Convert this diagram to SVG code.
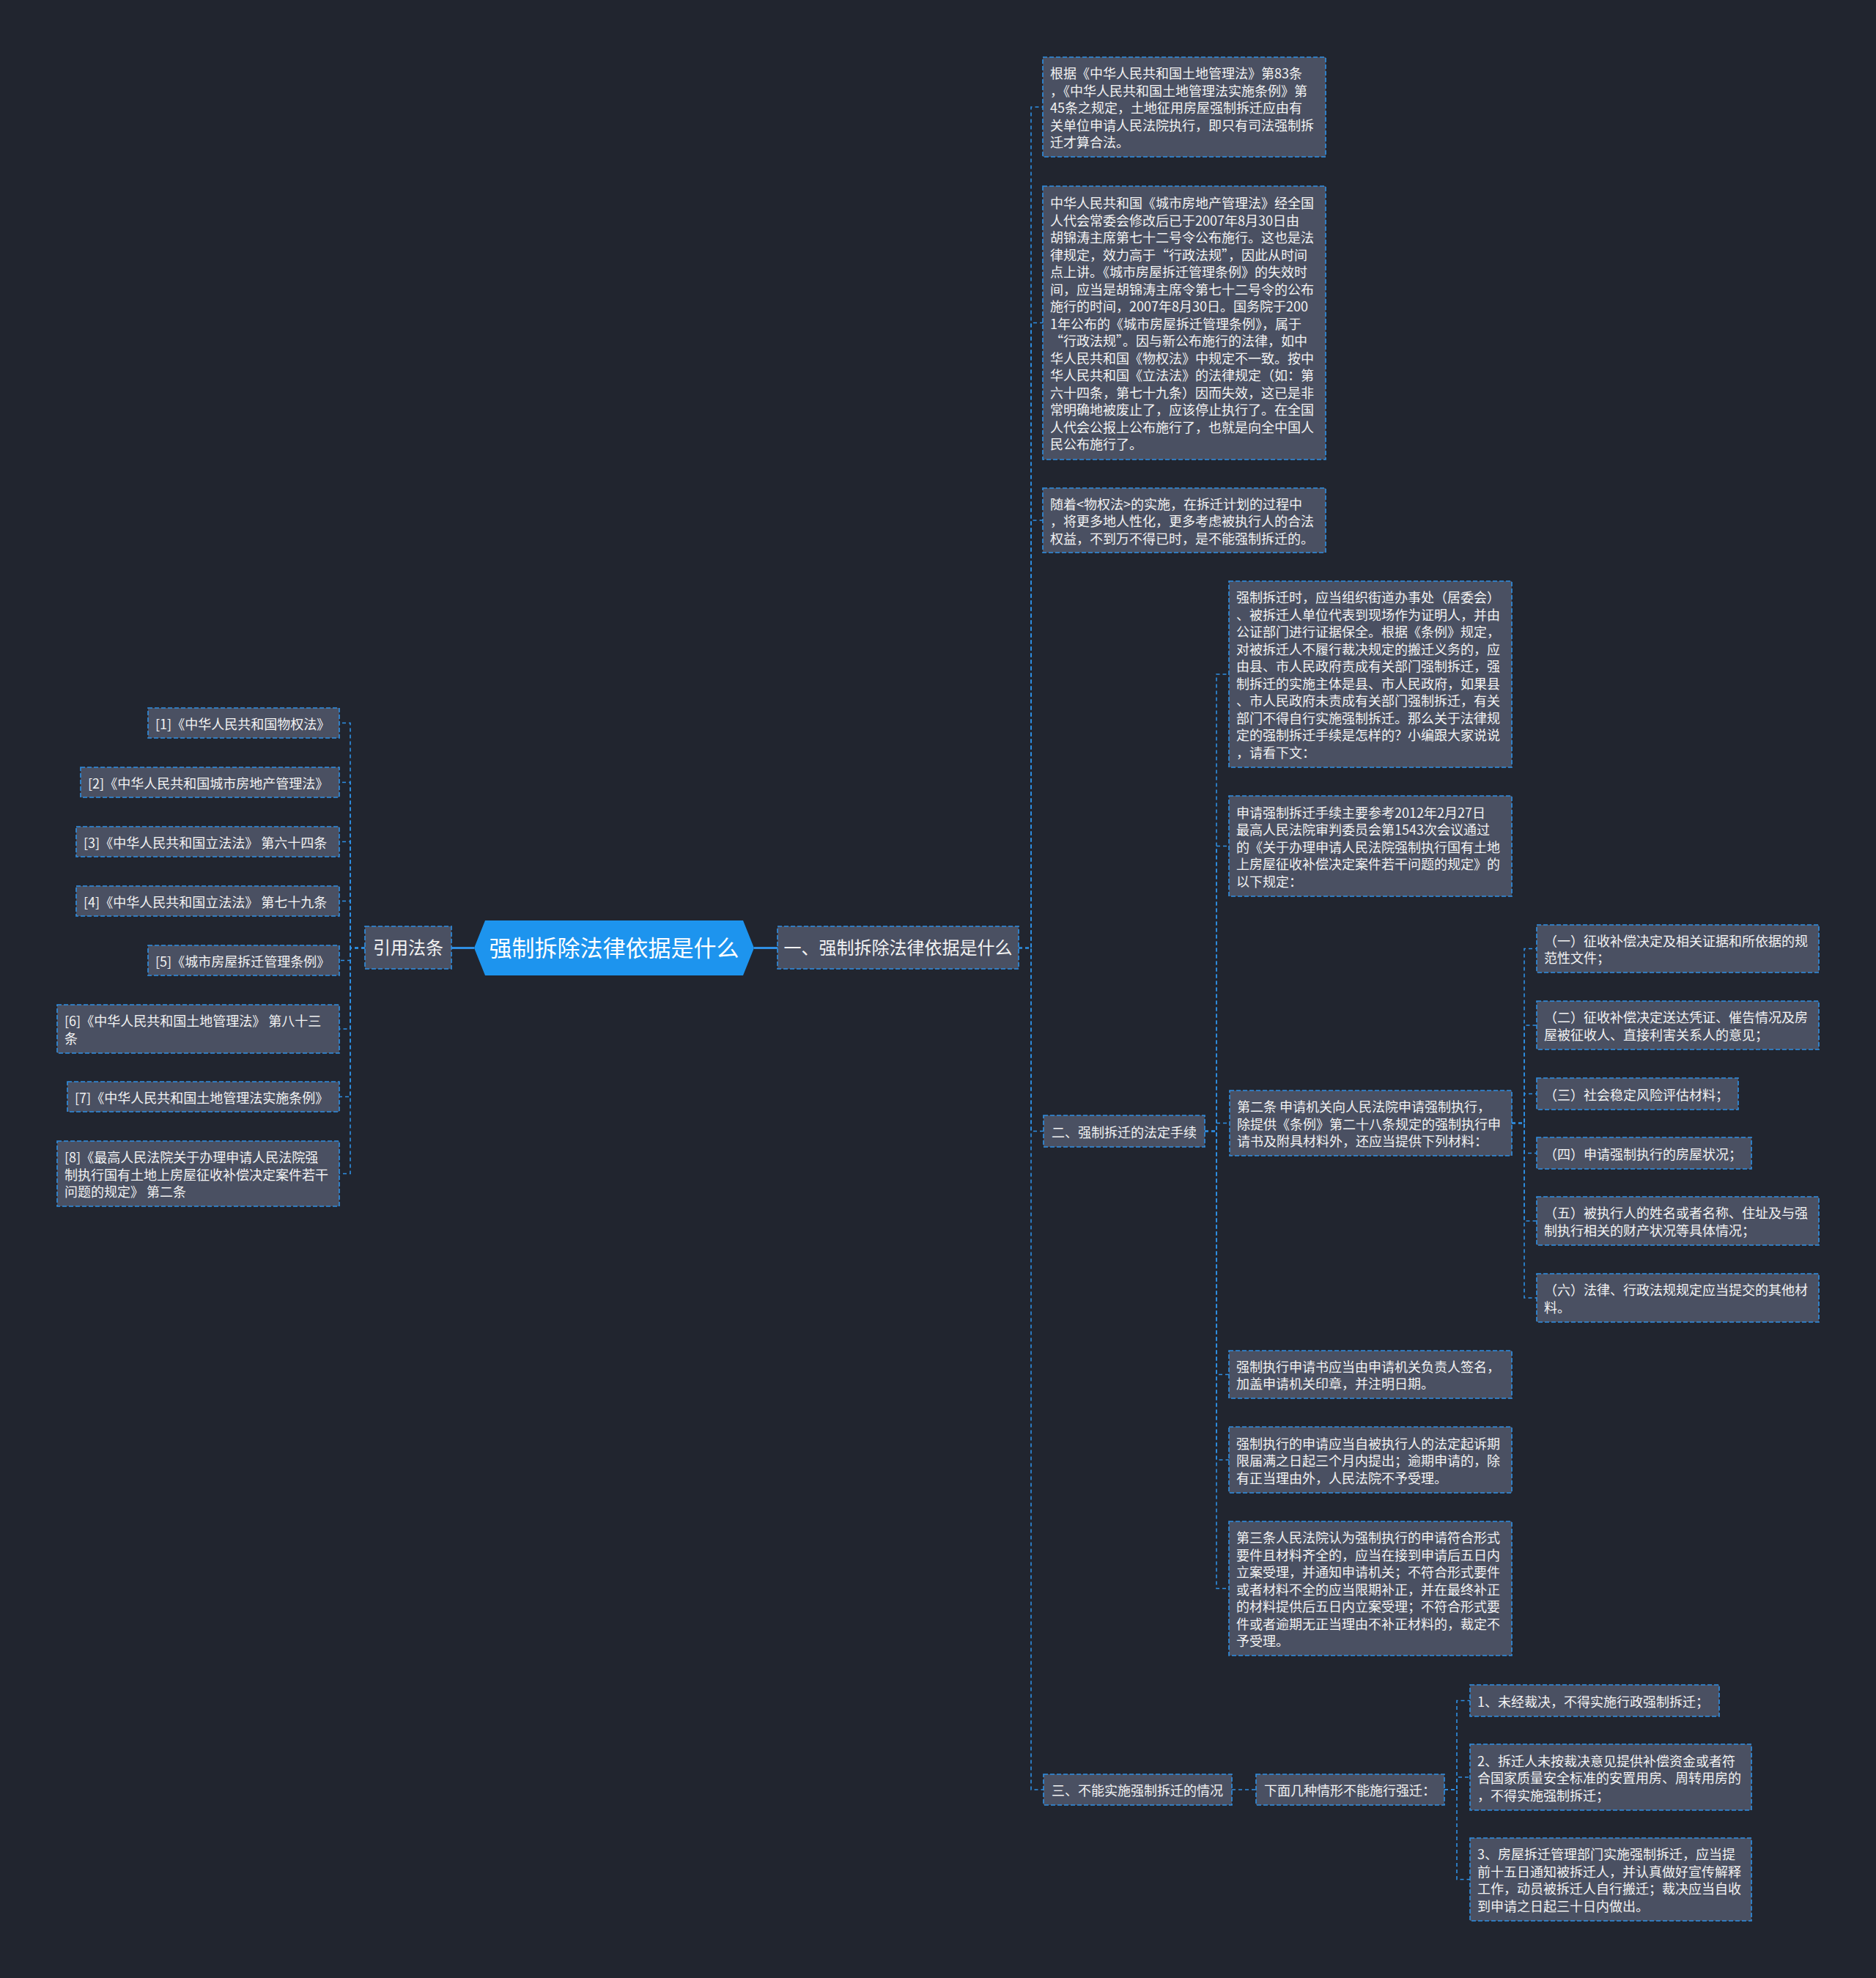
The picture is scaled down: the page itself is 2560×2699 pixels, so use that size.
<svg xmlns="http://www.w3.org/2000/svg" width="2560" height="2699" viewBox="0 0 2560 2699">
<style>
.bg{fill:#21252f}
.box{fill:#4a5062;stroke:#2f8fe3;stroke-width:1.6;stroke-dasharray:6 3}
.t{font-family:"Noto Sans CJK SC","Noto Sans",sans-serif;font-size:18px;fill:#f2f2f2}
.t24{font-family:"Noto Sans CJK SC","Noto Sans",sans-serif;font-size:24px;fill:#f2f2f2}
.conn{fill:none;stroke:#2f8fe3;stroke-width:1.6;stroke-dasharray:5 4}
.main{fill:none;stroke:#2f8fe3;stroke-width:3}
</style>
<rect class="bg" x="0" y="0" width="2560" height="2699"/>

<g id="connectors">
  <path class="main" d="M647,1293.5 H616"/>
  <path class="main" d="M1029,1293.5 H1061"/>
  <!-- 引用法条 children -->
  <path class="conn" d="M498,1293.5 H478 V986.5 H463"/>
  <path class="conn" d="M498,1293.5 H478 V1067.5 H463"/>
  <path class="conn" d="M498,1293.5 H478 V1148.5 H463"/>
  <path class="conn" d="M498,1293.5 H478 V1229.5 H463"/>
  <path class="conn" d="M498,1293.5 H478 V1310.5 H463"/>
  <path class="conn" d="M498,1293.5 H478 V1404 H463"/>
  <path class="conn" d="M498,1293.5 H478 V1496.5 H463"/>
  <path class="conn" d="M498,1293.5 H478 V1601.5 H463"/>
  <!-- 一 children -->
  <path class="conn" d="M1390,1293.5 H1407 V146 H1423"/>
  <path class="conn" d="M1390,1293.5 H1407 V440.5 H1423"/>
  <path class="conn" d="M1390,1293.5 H1407 V710 H1423"/>
  <path class="conn" d="M1390,1293.5 H1407 V1543.5 H1424"/>
  <path class="conn" d="M1390,1293.5 H1407 V2442 H1424"/>
  <!-- 二 children -->
  <path class="conn" d="M1644,1543.5 H1660 V920 H1677"/>
  <path class="conn" d="M1644,1543.5 H1660 V1154.5 H1677"/>
  <path class="conn" d="M1644,1543.5 H1660 V1532.5 H1678"/>
  <path class="conn" d="M1644,1543.5 H1660 V1875.5 H1677"/>
  <path class="conn" d="M1644,1543.5 H1660 V1992 H1677"/>
  <path class="conn" d="M1644,1543.5 H1660 V2167.5 H1677"/>
  <!-- 第二条 children -->
  <path class="conn" d="M2063,1532.5 H2080 V1294.5 H2097"/>
  <path class="conn" d="M2063,1532.5 H2080 V1399 H2097"/>
  <path class="conn" d="M2063,1532.5 H2080 V1492.5 H2097"/>
  <path class="conn" d="M2063,1532.5 H2080 V1573.5 H2097"/>
  <path class="conn" d="M2063,1532.5 H2080 V1666 H2097"/>
  <path class="conn" d="M2063,1532.5 H2080 V1771 H2097"/>
  <!-- 三 -->
  <path class="conn" d="M1681,2442 H1714"/>
  <path class="conn" d="M1971,2442 H1988 V2320.5 H2006"/>
  <path class="conn" d="M1971,2442 H1988 V2425 H2006"/>
  <path class="conn" d="M1971,2442 H1988 V2564.5 H2006"/>
</g>

<g id="root">
  <polygon points="662,1256 1014,1256 1029,1293.5 1014,1331 662,1331 647,1293.5" fill="#1d94ee"/>
  <text x="838" y="1304.5" text-anchor="middle" font-family="Noto Sans CJK SC, Noto Sans, sans-serif" font-size="31" fill="#ffffff">强制拆除法律依据是什么</text>
</g>

<g id="n-yinyong">
  <rect class="box" x="498" y="1264" width="118" height="58"/>
  <text class="t24" x="557" y="1302" text-anchor="middle">引用法条</text>
</g>
<g id="n-yi">
  <rect class="box" x="1061" y="1264" width="329" height="58"/>
  <text class="t24" x="1225.5" y="1302" text-anchor="middle">一、强制拆除法律依据是什么</text>
</g>

<g id="l1"><rect class="box" x="202" y="966" width="261" height="41"/><text class="t" x="212" y="994.5">[1]《中华人民共和国物权法》</text></g>
<g id="l2"><rect class="box" x="110" y="1047" width="353" height="41"/><text class="t" x="120" y="1075.5">[2]《中华人民共和国城市房地产管理法》</text></g>
<g id="l3"><rect class="box" x="104" y="1128" width="359" height="41"/><text class="t" x="114" y="1156.5">[3]《中华人民共和国立法法》 第六十四条</text></g>
<g id="l4"><rect class="box" x="104" y="1209" width="359" height="41"/><text class="t" x="114" y="1237.5">[4]《中华人民共和国立法法》 第七十九条</text></g>
<g id="l5"><rect class="box" x="202" y="1290" width="261" height="41"/><text class="t" x="212" y="1318.5">[5]《城市房屋拆迁管理条例》</text></g>
<g id="l6"><rect class="box" x="78" y="1371" width="385" height="66"/><text class="t" x="88" y="1400.25">[6]《中华人民共和国土地管理法》 第八十三<tspan x="88" dy="23.5">条</tspan></text></g>
<g id="l7"><rect class="box" x="92" y="1476" width="371" height="41"/><text class="t" x="102" y="1504.5">[7]《中华人民共和国土地管理法实施条例》</text></g>
<g id="l8"><rect class="box" x="78" y="1557" width="385" height="89"/><text class="t" x="88" y="1586">[8]《最高人民法院关于办理申请人民法院强<tspan x="88" dy="23.5">制执行国有土地上房屋征收补偿决定案件若干</tspan><tspan x="88" dy="23.5">问题的规定》 第二条</tspan></text></g>

<g id="b1"><rect class="box" x="1423" y="78" width="386" height="136"/><text class="t" x="1433" y="107">根据《中华人民共和国土地管理法》第83条<tspan x="1433" dy="23.5">，《中华人民共和国土地管理法实施条例》第</tspan><tspan x="1433" dy="23.5">45条之规定，土地征用房屋强制拆迁应由有</tspan><tspan x="1433" dy="23.5">关单位申请人民法院执行，即只有司法强制拆</tspan><tspan x="1433" dy="23.5">迁才算合法。</tspan></text></g>

<g id="b2"><rect class="box" x="1423" y="254" width="386" height="373"/><text class="t" x="1433" y="284">中华人民共和国《城市房地产管理法》经全国<tspan x="1433" dy="23.5">人代会常委会修改后已于2007年8月30日由</tspan><tspan x="1433" dy="23.5">胡锦涛主席第七十二号令公布施行。这也是法</tspan><tspan x="1433" dy="23.5">律规定，效力高于“行政法规”，因此从时间</tspan><tspan x="1433" dy="23.5">点上讲。《城市房屋拆迁管理条例》的失效时</tspan><tspan x="1433" dy="23.5">间，应当是胡锦涛主席令第七十二号令的公布</tspan><tspan x="1433" dy="23.5">施行的时间，2007年8月30日。国务院于200</tspan><tspan x="1433" dy="23.5">1年公布的《城市房屋拆迁管理条例》，属于</tspan><tspan x="1433" dy="23.5">“行政法规”。因与新公布施行的法律，如中</tspan><tspan x="1433" dy="23.5">华人民共和国《物权法》中规定不一致。按中</tspan><tspan x="1433" dy="23.5">华人民共和国《立法法》的法律规定（如：第</tspan><tspan x="1433" dy="23.5">六十四条，第七十九条）因而失效，这已是非</tspan><tspan x="1433" dy="23.5">常明确地被废止了，应该停止执行了。在全国</tspan><tspan x="1433" dy="23.5">人代会公报上公布施行了，也就是向全中国人</tspan><tspan x="1433" dy="23.5">民公布施行了。</tspan></text></g>

<g id="b3"><rect class="box" x="1423" y="666" width="386" height="88"/><text class="t" x="1433" y="694.5">随着&lt;物权法&gt;的实施，在拆迁计划的过程中<tspan x="1433" dy="23.5">，将更多地人性化，更多考虑被执行人的合法</tspan><tspan x="1433" dy="23.5">权益，不到万不得已时，是不能强制拆迁的。</tspan></text></g>

<g id="n-er"><rect class="box" x="1424" y="1522" width="220" height="43"/><text class="t" x="1435" y="1551.5">二、强制拆迁的法定手续</text></g>

<g id="b4"><rect class="box" x="1677" y="793" width="386" height="254"/><text class="t" x="1687" y="822.25">强制拆迁时，应当组织街道办事处（居委会）<tspan x="1687" dy="23.5">、被拆迁人单位代表到现场作为证明人，并由</tspan><tspan x="1687" dy="23.5">公证部门进行证据保全。根据《条例》规定，</tspan><tspan x="1687" dy="23.5">对被拆迁人不履行裁决规定的搬迁义务的，应</tspan><tspan x="1687" dy="23.5">由县、市人民政府责成有关部门强制拆迁，强</tspan><tspan x="1687" dy="23.5">制拆迁的实施主体是县、市人民政府，如果县</tspan><tspan x="1687" dy="23.5">、市人民政府未责成有关部门强制拆迁，有关</tspan><tspan x="1687" dy="23.5">部门不得自行实施强制拆迁。那么关于法律规</tspan><tspan x="1687" dy="23.5">定的强制拆迁手续是怎样的？小编跟大家说说</tspan><tspan x="1687" dy="23.5">，请看下文：</tspan></text></g>

<g id="b5"><rect class="box" x="1677" y="1086" width="386" height="137"/><text class="t" x="1687" y="1115.5">申请强制拆迁手续主要参考2012年2月27日<tspan x="1687" dy="23.5">最高人民法院审判委员会第1543次会议通过</tspan><tspan x="1687" dy="23.5">的《关于办理申请人民法院强制执行国有土地</tspan><tspan x="1687" dy="23.5">上房屋征收补偿决定案件若干问题的规定》的</tspan><tspan x="1687" dy="23.5">以下规定：</tspan></text></g>

<g id="b6"><rect class="box" x="1678" y="1488" width="385" height="89"/><text class="t" x="1688" y="1517">第二条 申请机关向人民法院申请强制执行，<tspan x="1688" dy="23.5">除提供《条例》第二十八条规定的强制执行申</tspan><tspan x="1688" dy="23.5">请书及附具材料外，还应当提供下列材料：</tspan></text></g>

<g id="c1"><rect class="box" x="2097" y="1262" width="385" height="65"/><text class="t" x="2107" y="1290.75">（一）征收补偿决定及相关证据和所依据的规<tspan x="2107" dy="23.5">范性文件；</tspan></text></g>
<g id="c2"><rect class="box" x="2097" y="1366" width="385" height="66"/><text class="t" x="2107" y="1395.25">（二）征收补偿决定送达凭证、催告情况及房<tspan x="2107" dy="23.5">屋被征收人、直接利害关系人的意见；</tspan></text></g>
<g id="c3"><rect class="box" x="2097" y="1471" width="275" height="43"/><text class="t" x="2107" y="1500.5">（三）社会稳定风险评估材料；</text></g>
<g id="c4"><rect class="box" x="2097" y="1552" width="293" height="43"/><text class="t" x="2107" y="1581.5">（四）申请强制执行的房屋状况；</text></g>
<g id="c5"><rect class="box" x="2097" y="1633" width="385" height="66"/><text class="t" x="2107" y="1662.25">（五）被执行人的姓名或者名称、住址及与强<tspan x="2107" dy="23.5">制执行相关的财产状况等具体情况；</tspan></text></g>
<g id="c6"><rect class="box" x="2097" y="1738" width="385" height="66"/><text class="t" x="2107" y="1767.25">（六）法律、行政法规规定应当提交的其他材<tspan x="2107" dy="23.5">料。</tspan></text></g>

<g id="b7"><rect class="box" x="1677" y="1843" width="386" height="65"/><text class="t" x="1687" y="1871.75">强制执行申请书应当由申请机关负责人签名，<tspan x="1687" dy="23.5">加盖申请机关印章，并注明日期。</tspan></text></g>
<g id="b8"><rect class="box" x="1677" y="1947" width="386" height="90"/><text class="t" x="1687" y="1976.5">强制执行的申请应当自被执行人的法定起诉期<tspan x="1687" dy="23.5">限届满之日起三个月内提出；逾期申请的，除</tspan><tspan x="1687" dy="23.5">有正当理由外，人民法院不予受理。</tspan></text></g>
<g id="b9"><rect class="box" x="1677" y="2076" width="386" height="183"/><text class="t" x="1687" y="2105">第三条人民法院认为强制执行的申请符合形式<tspan x="1687" dy="23.5">要件且材料齐全的，应当在接到申请后五日内</tspan><tspan x="1687" dy="23.5">立案受理，并通知申请机关；不符合形式要件</tspan><tspan x="1687" dy="23.5">或者材料不全的应当限期补正，并在最终补正</tspan><tspan x="1687" dy="23.5">的材料提供后五日内立案受理；不符合形式要</tspan><tspan x="1687" dy="23.5">件或者逾期无正当理由不补正材料的，裁定不</tspan><tspan x="1687" dy="23.5">予受理。</tspan></text></g>

<g id="n-san"><rect class="box" x="1424" y="2421" width="257" height="42"/><text class="t" x="1435" y="2450">三、不能实施强制拆迁的情况</text></g>
<g id="n-xiamian"><rect class="box" x="1714" y="2421" width="257" height="42"/><text class="t" x="1725" y="2450">下面几种情形不能施行强迁：</text></g>

<g id="d1"><rect class="box" x="2006" y="2299" width="340" height="43"/><text class="t" x="2016" y="2328.5">1、未经裁决，不得实施行政强制拆迁；</text></g>
<g id="d2"><rect class="box" x="2006" y="2380" width="384" height="90"/><text class="t" x="2016" y="2409.5">2、拆迁人未按裁决意见提供补偿资金或者符<tspan x="2016" dy="23.5">合国家质量安全标准的安置用房、周转用房的</tspan><tspan x="2016" dy="23.5">，不得实施强制拆迁；</tspan></text></g>
<g id="d3"><rect class="box" x="2006" y="2508" width="384" height="113"/><text class="t" x="2016" y="2537.25">3、房屋拆迁管理部门实施强制拆迁，应当提<tspan x="2016" dy="23.5">前十五日通知被拆迁人，并认真做好宣传解释</tspan><tspan x="2016" dy="23.5">工作，动员被拆迁人自行搬迁；裁决应当自收</tspan><tspan x="2016" dy="23.5">到申请之日起三十日内做出。</tspan></text></g>
</svg>
